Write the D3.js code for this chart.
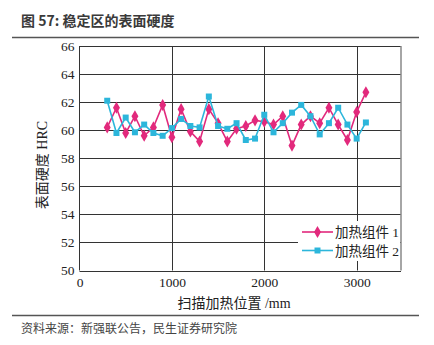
<!DOCTYPE html>
<html><head><meta charset="utf-8">
<script src="https://cdn.jsdelivr.net/npm/d3@7"></script>
<style>body{margin:0;background:#fff}svg{display:block}</style>
</head><body>
<svg id="c" width="434" height="345"></svg>
<script>
const positions = [300,400,500,600,700,800,900,1000,1100,1200,1300,1400,1500,1600,1700,1800,1900,2000,2100,2200,2300,2400,2500,2600,2700,2800,2900,3000,3100];
const series1 = [60.2,61.6,59.8,61.0,59.6,60.2,61.8,59.5,61.5,59.9,59.2,61.5,60.5,59.2,60.1,60.3,60.7,60.6,60.4,61.0,58.9,60.4,61.0,60.5,61.6,60.4,59.3,61.3,62.7];
const series2 = [62.1,59.8,60.9,59.85,60.4,59.8,59.6,60.15,60.8,60.3,60.2,62.4,60.3,60.1,60.5,59.3,59.4,61.1,59.85,60.5,61.25,61.8,61.0,59.7,60.5,61.6,60.4,59.4,60.55];
const seriesNames = ["加热组件 1","加热组件 2"];
const xTicks = [0,1000,2000,3000];
const yTicks = [50,52,54,56,58,60,62,64,66];
const titleText = "图 57:  稳定区的表面硬度";
const sourceText = "资料来源：新强联公告，民生证券研究院";
const xTitle = "扫描加热位置 /mm";
const yTitle = "表面硬度 HRC";

const svg = d3.select("#c");
const L = 79.5, R = 401, T = 46, B = 270.5;
const x = d3.scaleLinear().domain([0,3480]).range([L,R]);
const y = d3.scaleLinear().domain([50,66]).range([B,T]);
const pink = "#e2297c", cyan = "#2cb6db";
const serif = "'Liberation Serif','Noto Sans CJK SC',serif";
const cjk = "'Liberation Serif','Noto Sans CJK SC',serif";

// title
svg.append("text").attr("x",21).attr("y",26).attr("font-family","'Noto Sans CJK SC',sans-serif")
  .attr("font-weight","bold").attr("font-size",14).attr("fill","#3a3a3a").text(titleText);
svg.append("line").attr("x1",12).attr("x2",419).attr("y1",37.5).attr("y2",37.5).attr("stroke","#555").attr("stroke-width",1.5);
svg.append("line").attr("x1",12).attr("x2",419).attr("y1",315.5).attr("y2",315.5).attr("stroke","#555").attr("stroke-width",1.5);
svg.append("text").attr("x",21).attr("y",333).attr("font-family","'Noto Sans CJK SC',sans-serif")
  .attr("font-size",12).attr("fill","#444").text(sourceText);

// grid
const g = svg.append("g");
g.selectAll("line.h").data(yTicks).join("line")
  .attr("x1",L).attr("x2",R).attr("y1",d=>Math.round(y(d))+0.5).attr("y2",d=>Math.round(y(d))+0.5)
  .attr("stroke","#333").attr("stroke-width",1);
g.selectAll("line.v").data(xTicks.filter(d=>d>0)).join("line")
  .attr("x1",d=>Math.round(x(d))+0.5).attr("x2",d=>Math.round(x(d))+0.5).attr("y1",T).attr("y2",B)
  .attr("stroke","#333").attr("stroke-width",1);
g.append("line").attr("x1",L).attr("x2",L).attr("y1",T).attr("y2",B).attr("stroke","#333");
g.append("line").attr("x1",R).attr("x2",R).attr("y1",T).attr("y2",B).attr("stroke","#888").attr("stroke-width",1.5);

// axes labels
const xAxis = d3.axisBottom(x).tickValues(xTicks).tickSize(0).tickPadding(7).tickFormat(d3.format("d"));
const xa = svg.append("g").attr("transform",`translate(0,${B})`).call(xAxis);
xa.select(".domain").remove();
xa.selectAll("text").attr("font-family",serif).attr("font-size",13.5).attr("fill","#222");
const yAxis = d3.axisLeft(y).tickValues(yTicks).tickSize(0).tickPadding(5);
const ya = svg.append("g").attr("transform",`translate(${L},0)`).call(yAxis);
ya.select(".domain").remove();
ya.selectAll("text").attr("font-family",serif).attr("font-size",13.5).attr("fill","#222");

svg.append("text").attr("x",234).attr("y",308).attr("text-anchor","middle")
  .attr("font-family",cjk).attr("font-size",14).attr("fill","#222").text(xTitle);
svg.append("text").attr("transform","translate(47,165) rotate(-90)").attr("text-anchor","middle")
  .attr("font-family",cjk).attr("font-size",14).attr("fill","#222").text(yTitle);

// legend background
svg.append("rect").attr("x",298).attr("y",221).attr("width",R-298-1).attr("height",40).attr("fill","#fff");

// series
const data = [
  {name:seriesNames[0], vals:series1, color:pink, shape:d3.symbolDiamond, size:42},
  {name:seriesNames[1], vals:series2, color:cyan, shape:d3.symbolSquare, size:36}
];
const line = d3.line().x((d,i)=>x(positions[i])).y(d=>y(d));
data.forEach(s=>{
  svg.append("path").attr("d",line(s.vals)).attr("fill","none").attr("stroke",s.color).attr("stroke-width",1.6);
  svg.append("g").selectAll("path").data(s.vals).join("path")
    .attr("transform",(d,i)=>`translate(${x(positions[i])},${y(d)})`)
    .attr("d",d3.symbol().type(s.shape).size(s.size)).attr("fill",s.color);
});

// legend
data.forEach((s,i)=>{
  const ly = 232 + i*18.5;
  svg.append("line").attr("x1",302).attr("x2",333).attr("y1",ly).attr("y2",ly).attr("stroke",s.color).attr("stroke-width",1.6);
  svg.append("path").attr("transform",`translate(317.5,${ly})`).attr("d",d3.symbol().type(s.shape).size(s.size)).attr("fill",s.color);
  svg.append("text").attr("x",335).attr("y",ly+5).attr("font-family",cjk).attr("font-size",13.5).attr("fill","#222").text(s.name);
});
</script>
</body></html>
